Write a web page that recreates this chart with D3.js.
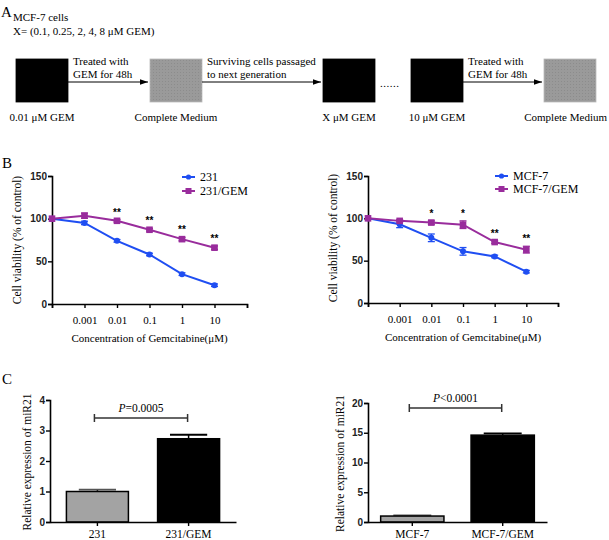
<!DOCTYPE html>
<html><head><meta charset="utf-8">
<script src="https://cdn.jsdelivr.net/npm/d3@7"></script>
<style>body{margin:0;background:#fff}svg{display:block}</style>
</head><body>
<svg id="c" width="609" height="540"></svg>
<script>
// ---- data ----
const concLabels = ["", "0.001", "0.01", "0.1", "1", "10"];
const v231 = [100, 95, 74, 58, 35, 22];
const e231 = [0, 2, 1.5, 1.5, 1.5, 1.5];
const v231GEM = [100, 103.5, 97.5, 87, 76, 66];
const e231GEM = [0, 3, 1.5, 1.5, 2, 2];
const sig231 = ["", "", "**", "**", "**", "**"];
const vMCF = [100, 93, 77, 61, 55, 37];
const eMCF = [0, 4, 4.5, 4.5, 1.5, 1.5];
const vMCFGEM = [100, 97, 95, 92.5, 72, 63];
const eMCFGEM = [0, 1.5, 2, 4.5, 1.5, 4];
const sigMCF = ["", "", "*", "*", "**", "**"];
const yTicksB = [0, 50, 100, 150];
const barCats231 = ["231", "231/GEM"];
const barVals231 = [1.0, 2.73];
const barErr231 = [0.06, 0.13];
const yTicks231 = [0, 1, 2, 3, 4];
const barCatsMCF = ["MCF-7", "MCF-7/GEM"];
const barValsMCF = [1.0, 14.6];
const barErrMCF = [0.1, 0.3];
const yTicksMCF = [0, 5, 10, 15, 20];
const pText231 = "0.0005", pTextMCF = "0.0001";

const svg = d3.select("#c");
const SERIF = "'Liberation Serif','Times New Roman',serif";
const SANS = "'Liberation Sans',Arial,sans-serif";
const BLUE = "#1f4ef2", PURPLE = "#992c9c";

// ---- Panel A ----
const defs = svg.append("defs");
defs.append("marker").attr("id","arr").attr("viewBox","0 0 10 10").attr("refX",10).attr("refY",5)
  .attr("markerWidth",8).attr("markerHeight",8).attr("markerUnits","userSpaceOnUse").attr("orient","auto")
  .append("path").attr("d","M0,1.5L10,5L0,8.5Z").attr("fill","#000");
const pat = defs.append("pattern").attr("id","dots").attr("width",3).attr("height",3).attr("patternUnits","userSpaceOnUse");
pat.append("rect").attr("width",3).attr("height",3).attr("fill","#9a9a9a");
pat.append("rect").attr("width",1).attr("height",1).attr("fill","#8c8c8c");

const A = svg.append("g");
A.append("text").attr("x",1).attr("y",17).attr("font-family",SERIF).attr("font-size",15).text("A");
A.append("text").attr("x",13).attr("y",21).attr("font-family",SERIF).attr("font-size",11).text("MCF-7 cells");
A.append("text").attr("x",13).attr("y",35).attr("font-family",SERIF).attr("font-size",11).text("X= (0.1, 0.25, 2, 4, 8 \u03BCM GEM)");
const boxes = [
  {x:16, fill:"#000", label:"0.01 \u03BCM GEM"},
  {x:150, fill:"url(#dots)", label:"Complete Medium"},
  {x:323, fill:"#000", label:"X \u03BCM GEM"},
  {x:411, fill:"#000", label:"10 \u03BCM GEM"},
  {x:544, fill:"url(#dots)", label:"Complete Medium"}
];
boxes.forEach((b,i) => {
  A.append("rect").attr("x",b.x).attr("y",59).attr("width",52).attr("height",43).attr("fill",b.fill)
    .attr("stroke", b.fill==="#000" ? "#000" : "#bbb").attr("stroke-width",0.8);
  const last = i === boxes.length - 1;
  A.append("text").attr("x", last ? 607 : b.x+26).attr("y",121).attr("text-anchor", last ? "end" : "middle")
    .attr("font-family",SERIF).attr("font-size",11).text(b.label);
});
const arrows = [[68,148,"Treated with","GEM for 48h",73],[202,321,"Surviving cells passaged","to next generation",207],[463,542,"Treated with","GEM for 48h",468]];
arrows.forEach(a => {
  A.append("line").attr("x1",a[0]).attr("x2",a[1]).attr("y1",82).attr("y2",82).attr("stroke","#000")
    .attr("stroke-width",1).attr("marker-end","url(#arr)");
  A.append("text").attr("x",a[4]).attr("y",65).attr("font-family",SERIF).attr("font-size",11).text(a[2]);
  A.append("text").attr("x",a[4]).attr("y",78).attr("font-family",SERIF).attr("font-size",11).text(a[3]);
});
A.append("text").attr("x",380).attr("y",87).attr("font-family",SERIF).attr("font-size",11).attr("letter-spacing",0.5).text("......");

// ---- Panel labels ----
svg.append("text").attr("x",2).attr("y",168).attr("font-family",SERIF).attr("font-size",15).text("B");
svg.append("text").attr("x",2).attr("y",384).attr("font-family",SERIF).attr("font-size",15).text("C");

function styleAxis(g){
  g.select(".domain").attr("stroke","#000").attr("stroke-width",1.6);
  g.selectAll(".tick line").attr("stroke","#000").attr("stroke-width",1.4);
}

function lineChart(opt){
  const x = d3.scaleLinear().domain([0,6]).range([opt.x0,opt.x1]);
  const y = d3.scaleLinear().domain([0,150]).range([opt.y0,opt.y1]);
  const g = svg.append("g");
  const gx = g.append("g").attr("transform",`translate(0,${opt.y0})`)
    .call(d3.axisBottom(x).tickValues([0,1,2,3,4,5,6]).tickSize(4).tickPadding(8)
      .tickFormat(i => concLabels[i] || ""));
  gx.selectAll("text").attr("font-family",SERIF).attr("font-size",11).attr("fill","#000");
  styleAxis(gx);
  const gy = g.append("g").attr("transform",`translate(${opt.x0},0)`)
    .call(d3.axisLeft(y).tickValues(yTicksB).tickSize(4).tickPadding(1).tickFormat(d3.format("d")));
  gy.selectAll("text").attr("font-family",SANS).attr("font-size",10).attr("font-weight","bold").attr("fill","#222");
  styleAxis(gy);
  g.append("text").attr("x",(opt.x0+opt.x1)/2).attr("y",opt.y0+38).attr("text-anchor","middle")
    .attr("font-family",SERIF).attr("font-size",11).text("Concentration of Gemcitabine(\u03BCM)");
  g.append("text").attr("transform",`translate(${opt.titleX},${opt.titleY}) rotate(-90)`).attr("text-anchor","middle")
    .attr("font-family",SERIF).attr("font-size",11.5).text("Cell viability (% of control)");
  const line = d3.line().x((d,i)=>x(i)).y(d=>y(d));
  const series = [
    {v:opt.a, e:opt.ae, c:BLUE, m:"circle"},
    {v:opt.b, e:opt.be, c:PURPLE, m:"square"}
  ];
  series.forEach(s => {
    g.append("path").attr("d",line(s.v)).attr("fill","none").attr("stroke",s.c).attr("stroke-width",2);
    s.v.forEach((v,i) => {
      if (s.e[i] > 0) {
        const cx = x(i);
        g.append("line").attr("x1",cx).attr("x2",cx).attr("y1",y(v-s.e[i])).attr("y2",y(v+s.e[i])).attr("stroke",s.c).attr("stroke-width",1.3);
        [v-s.e[i], v+s.e[i]].forEach(ev => g.append("line").attr("x1",cx-3.5).attr("x2",cx+3.5).attr("y1",y(ev)).attr("y2",y(ev)).attr("stroke",s.c).attr("stroke-width",1.3));
      }
      if (s.m==="circle") g.append("circle").attr("cx",x(i)).attr("cy",y(v)).attr("r",3).attr("fill",s.c);
      else g.append("rect").attr("x",x(i)-3.3).attr("y",y(v)-3.3).attr("width",6.6).attr("height",6.6).attr("fill",s.c);
    });
  });
  opt.sig.forEach((s,i) => {
    if (!s) return;
    g.append("text").attr("x",x(i)).attr("y",y(opt.b[i]+opt.be[i])-4).attr("text-anchor","middle")
      .attr("font-family",SANS).attr("font-size",10).attr("font-weight","bold").text(s);
  });
  opt.legend.forEach((L,k) => {
    const ly = L.y;
    g.append("line").attr("x1",opt.lx).attr("x2",opt.lx+13).attr("y1",ly).attr("y2",ly).attr("stroke",series[k].c).attr("stroke-width",2);
    if (k===0) g.append("circle").attr("cx",opt.lx+6.5).attr("cy",ly).attr("r",2.6).attr("fill",series[k].c);
    else g.append("rect").attr("x",opt.lx+3.5).attr("y",ly-3).attr("width",6).attr("height",6).attr("fill",series[k].c);
    g.append("text").attr("x",opt.lx+18).attr("y",ly+4).attr("font-family",SERIF).attr("font-size",12).text(L.t);
  });
}

lineChart({x0:52,x1:247,y0:304,y1:176,a:v231,ae:e231,b:v231GEM,be:e231GEM,sig:sig231,
  titleX:21,titleY:240,lx:182,legend:[{t:"231",y:177},{t:"231/GEM",y:191}]});
lineChart({x0:368,x1:558,y0:303,y1:176,a:vMCF,ae:eMCF,b:vMCFGEM,be:eMCFGEM,sig:sigMCF,
  titleX:337,titleY:238,lx:495,legend:[{t:"MCF-7",y:176},{t:"MCF-7/GEM",y:189}]});

// ---- Panel C ----
function barChart(opt){
  const x = d3.scaleBand().domain(opt.cats).range([opt.x0,opt.x1]).paddingInner(opt.pi).paddingOuter(opt.po);
  const y = d3.scaleLinear().domain([0,opt.max]).range([opt.y0,opt.y1]);
  const g = svg.append("g");
  const fills = ["#a3a3a3","#000"];
  opt.vals.forEach((v,i) => {
    const cx = x(opt.cats[i]) + x.bandwidth()/2;
    g.append("line").attr("x1",cx).attr("x2",cx).attr("y1",y(v)).attr("y2",y(v+opt.err[i])).attr("stroke","#000").attr("stroke-width",1.5);
    g.append("line").attr("x1",cx-x.bandwidth()*0.3).attr("x2",cx+x.bandwidth()*0.3).attr("y1",y(v+opt.err[i])).attr("y2",y(v+opt.err[i]))
      .attr("stroke", i===0 ? "#555" : "#000").attr("stroke-width",1.8);
    g.append("rect").attr("x",x(opt.cats[i])).attr("y",y(v)).attr("width",x.bandwidth()).attr("height",y(0)-y(v))
      .attr("fill",fills[i]).attr("stroke","#000").attr("stroke-width",1.5);
  });
  const gx = g.append("g").attr("transform",`translate(0,${opt.y0})`)
    .call(d3.axisBottom(x).tickSize(4).tickPadding(4).tickSizeOuter(0));
  gx.selectAll("text").attr("font-family",SERIF).attr("font-size",11.5).attr("fill","#000");
  styleAxis(gx);
  const gy = g.append("g").attr("transform",`translate(${opt.x0},0)`)
    .call(d3.axisLeft(y).tickValues(opt.ticks).tickSize(4).tickPadding(1).tickFormat(d3.format("d")));
  gy.selectAll("text").attr("font-family",SANS).attr("font-size",10).attr("font-weight","bold").attr("fill","#222");
  styleAxis(gy);
  g.append("text").attr("transform",`translate(${opt.titleX},${(opt.y0+opt.y1)/2 + 1}) rotate(-90)`).attr("text-anchor","middle")
    .attr("font-family",SERIF).attr("font-size",11.5).text("Relative expression of miR21");
  const bx1 = x(opt.cats[0]) + x.bandwidth()/2 - 3, bx2 = x(opt.cats[1]) + x.bandwidth()/2 - 1;
  g.append("line").attr("x1",bx1).attr("x2",bx2).attr("y1",opt.by).attr("y2",opt.by).attr("stroke","#333").attr("stroke-width",1.5);
  [bx1,bx2].forEach(bx => g.append("line").attr("x1",bx).attr("x2",bx).attr("y1",opt.by-4).attr("y2",opt.by+4).attr("stroke","#333").attr("stroke-width",1.5));
  const t = g.append("text").attr("x",(bx1+bx2)/2).attr("y",opt.by-6).attr("text-anchor","middle")
    .attr("font-family",SERIF).attr("font-size",11.5);
  t.append("tspan").attr("font-style","italic").text("P");
  t.append("tspan").text(opt.op + opt.p);
}
barChart({cats:barCats231,vals:barVals231,err:barErr231,max:4,ticks:yTicks231,x0:50,x1:236,y0:522,y1:400,
  pi:0.32,po:0.18,titleX:31,by:418,op:"=",p:pText231});
barChart({cats:barCatsMCF,vals:barValsMCF,err:barErrMCF,max:20,ticks:yTicksMCF,x0:368,x1:547,y0:522,y1:403,
  pi:0.3,po:0.14,titleX:344,by:408,op:"<",p:pTextMCF});
</script>
</body></html>
